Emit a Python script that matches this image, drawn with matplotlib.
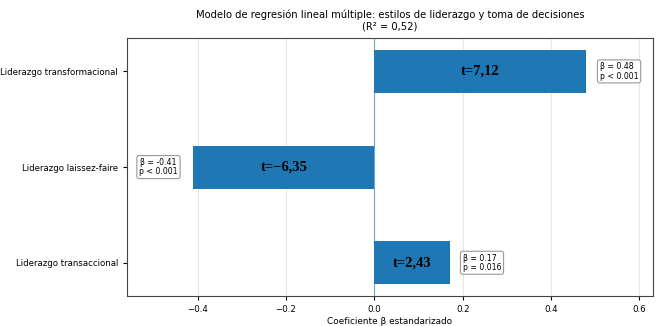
import numpy as np
import matplotlib.pyplot as plt

# coeficientes estandarizados del modelo
predictores = ['Liderazgo transaccional', 'Liderazgo laissez-faire', 'Liderazgo transformacional']
beta = [0.17, -0.41, 0.48]
t_vals = ['2,43', '\u22126,35', '7,12']
p_txt = ['p = 0.016', 'p < 0.001', 'p < 0.001']

fig = plt.figure(figsize=(6.58, 3.26), dpi=100)
ax = fig.add_axes([0.193, 0.092, 0.799, 0.791])

y = np.arange(len(predictores))
ax.barh(y, beta, height=0.45, color='#1f77b4', zorder=3)
ax.axvline(0, color='#1f77b4', linewidth=0.8, alpha=0.6, zorder=4)

for i, b in enumerate(beta):
    ax.text(b / 2, i, 't=' + t_vals[i], ha='center', va='center',
            fontsize=10.5, fontweight='bold', family='Liberation Serif', zorder=5)
    etiqueta = f'\u03b2 = {b:.2f}\n{p_txt[i]}'
    if b >= 0:
        ax.text(b + 0.03, i, etiqueta, ha='left', va='center', fontsize=5.6,
                linespacing=1.05,
                bbox=dict(boxstyle='round,pad=0.3', fc='white', ec='#999999', lw=0.8))
    else:
        ax.text(b - 0.035, i, etiqueta, ha='right', va='center', fontsize=5.6,
                linespacing=1.05, multialignment='center',
                bbox=dict(boxstyle='round,pad=0.3', fc='white', ec='#999999', lw=0.8))

ax.set_yticks(y)
ax.set_yticklabels(predictores, fontsize=6.2)
ax.set_xlim(min(beta) - 0.15, max(beta) + 0.15)
ax.set_xticks([-0.4, -0.2, 0.0, 0.2, 0.4, 0.6])
ax.tick_params(axis='x', labelsize=6.2, length=3)
ax.tick_params(axis='y', length=3)
ax.grid(axis='x', alpha=0.3, zorder=0)
ax.set_xlabel('Coeficiente \u03b2 estandarizado', fontsize=6.4, labelpad=2)
ax.set_title('Modelo de regresión lineal múltiple: estilos de liderazgo y toma de decisiones\n(R\u00b2 = 0,52)',
             fontsize=7.2, pad=6)
for s in ax.spines.values():
    s.set_color('#444444')

plt.savefig('out.png', dpi=100)
